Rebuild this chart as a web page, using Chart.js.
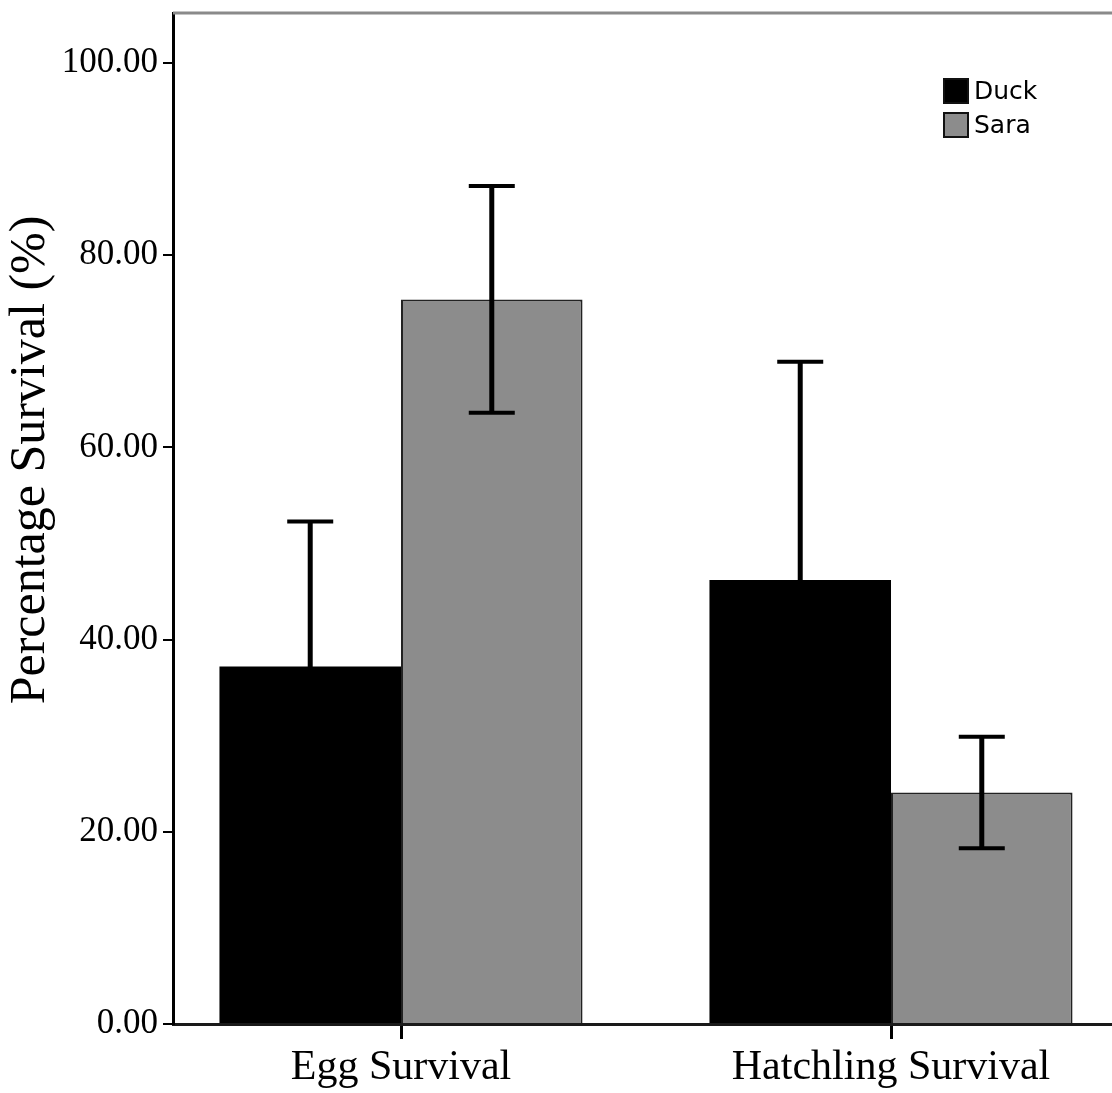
<!DOCTYPE html>
<html>
<head>
<meta charset="utf-8">
<title>Percentage Survival</title>
<script src="https://cdn.jsdelivr.net/npm/chart.js@4.4.1/dist/chart.umd.min.js"></script>
<style>
  html, body { margin: 0; padding: 0; background: #fff; overflow: hidden; }
  canvas { display: block; }
</style>
</head>
<body>
<canvas id="survivalChart" width="1112" height="1093"></canvas>
<script>
const categories = ['Egg Survival', 'Hatchling Survival'];
const duckMeans = [37.2, 46.2];
const duckErrors = [15.1, 22.7];
const saraMeans = [75.4, 24.1];
const saraErrors = [11.8, 5.8];
const yTicks = [0, 20, 40, 60, 80, 100];

const serif = '"Liberation Serif", "Times New Roman", serif';
const sans = '"DejaVu Sans", Verdana, sans-serif';

// mean +/- error whiskers with caps, drawn on top of the bars
const errorBars = {
    id: 'errorBars',
    afterDatasetsDraw(chart) {
        const ctx = chart.ctx;
        const yScale = chart.scales.y;
        chart.data.datasets.forEach((ds, di) => {
            chart.getDatasetMeta(di).data.forEach((bar, i) => {
                const mean = ds.data[i].y;
                const err = ds.errors[i];
                const top = yScale.getPixelForValue(mean + err);
                const bottom = yScale.getPixelForValue(mean - err);
                ctx.save();
                ctx.strokeStyle = '#000';
                ctx.lineWidth = 5;
                ctx.beginPath();
                ctx.moveTo(bar.x, top);
                ctx.lineTo(bar.x, bottom);
                ctx.stroke();
                ctx.lineWidth = 4;
                ctx.beginPath();
                ctx.moveTo(bar.x - 23, top);
                ctx.lineTo(bar.x + 23, top);
                ctx.moveTo(bar.x - 23, bottom);
                ctx.lineTo(bar.x + 23, bottom);
                ctx.stroke();
                ctx.restore();
            });
        });
    }
};

// top frame line, rotated y title and the boxed legend in the upper right
const frame = {
    id: 'frame',
    afterDraw(chart) {
        const ctx = chart.ctx;
        const area = chart.chartArea;
        ctx.save();

        ctx.strokeStyle = '#8a8a8a';
        ctx.lineWidth = 3;
        ctx.beginPath();
        ctx.moveTo(area.left, area.top);
        ctx.lineTo(area.right, area.top);
        ctx.stroke();

        ctx.fillStyle = '#000';
        ctx.font = '50px ' + serif;
        ctx.textAlign = 'center';
        ctx.textBaseline = 'middle';
        ctx.translate(31, 460);
        ctx.rotate(-Math.PI / 2);
        ctx.fillText('Percentage Survival (%)', 0, 0);
        ctx.setTransform(1, 0, 0, 1, 0, 0);

        ctx.font = '25px ' + sans;
        ctx.textAlign = 'left';
        chart.data.datasets.forEach((ds, i) => {
            const bx = area.right - 169;
            const by = area.top + 65 + i * 34;
            ctx.fillStyle = ds.backgroundColor;
            ctx.fillRect(bx, by, 26, 26);
            ctx.strokeStyle = '#111';
            ctx.lineWidth = 2;
            ctx.strokeRect(bx + 1, by + 1, 24, 24);
            ctx.fillStyle = '#000';
            ctx.fillText(ds.label, bx + 31, by + 14);
        });
        ctx.restore();
    }
};

const ctx = document.getElementById('survivalChart').getContext('2d');
const survivalChart = new Chart(ctx, {
    type: 'bar',
    data: {
        datasets: [
            {
                label: 'Duck',
                data: duckMeans.map((v, i) => ({ x: i, y: v })),
                errors: duckErrors,
                backgroundColor: '#000000',
                borderWidth: 0
            },
            {
                label: 'Sara',
                data: saraMeans.map((v, i) => ({ x: i, y: v })),
                errors: saraErrors,
                backgroundColor: '#8c8c8c',
                borderColor: '#222',
                borderWidth: 2
            }
        ]
    },
    options: {
        responsive: false,
        animation: false,
        categoryPercentage: 0.741,
        barPercentage: 1,
        layout: {
            padding: { top: 13, right: 0, left: 0, bottom: 0 }
        },
        plugins: {
            legend: { display: false },
            tooltip: { enabled: false }
        },
        scales: {
            x: {
                type: 'linear',
                offset: false,
                min: -0.4653,
                max: 1.451,
                afterBuildTicks: (scale) => {
                    scale.ticks = categories.map((c, i) => ({ value: i }));
                },
                afterFit: (scale) => {
                    scale.height = 69;
                    scale.paddingLeft = 0;
                    scale.paddingRight = 0;
                },
                grid: {
                    offset: false,
                    drawOnChartArea: false,
                    tickLength: 15,
                    color: '#000',
                    lineWidth: 3
                },
                border: { color: '#1a1a1a', width: 3 },
                ticks: {
                    color: '#000',
                    padding: 4,
                    maxRotation: 0,
                    autoSkip: false,
                    font: { family: serif, size: 42 },
                    callback: (value) => categories[value]
                }
            },
            y: {
                min: 0,
                max: 105.2,
                afterBuildTicks: (scale) => {
                    scale.ticks = yTicks.map(v => ({ value: v }));
                },
                afterFit: (scale) => {
                    scale.width = 173;
                    scale.paddingTop = 0;
                    scale.paddingBottom = 0;
                },
                grid: {
                    drawOnChartArea: false,
                    tickLength: 10,
                    color: '#000',
                    lineWidth: 2
                },
                border: { color: '#000', width: 3 },
                ticks: {
                    color: '#000',
                    padding: 5,
                    font: { family: serif, size: 35 },
                    callback: (value) => value.toFixed(2)
                }
            }
        }
    },
    plugins: [errorBars, frame]
});
</script>
</body>
</html>
